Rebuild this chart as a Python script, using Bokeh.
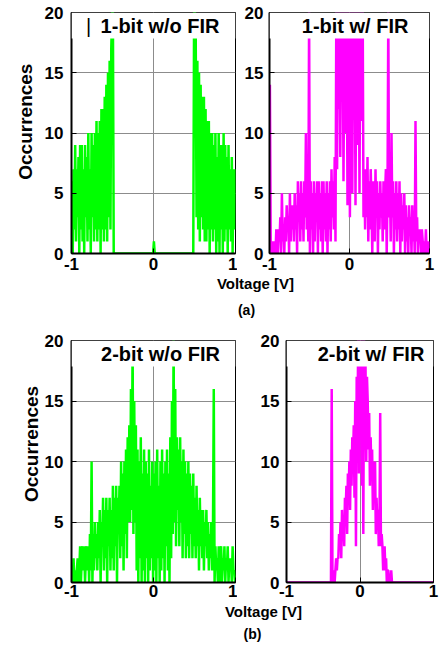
import numpy as np
from bokeh.plotting import figure
from bokeh.layouts import column, row
from bokeh.models import Range1d, FixedTicker, BoxAnnotation, Label
from bokeh.embed import file_html
from bokeh.resources import INLINE

# ---------------- data ----------------
# histogram bins: 200 bins of 0.01 V between -1 and 1 (bin centres)
BIN_CENTERS = np.round(np.linspace(-0.995, 0.995, 200), 3)

X_TICKS = [-1, 0, 1]
X_TICK_LABELS = ["-1", "0", "1"]
Y_TICKS = [0, 5, 10, 15, 20]
Y_TICK_LABELS = ["0", "5", "10", "15", "20"]

TITLES = ["1-bit w/o FIR", "1-bit w/ FIR", "2-bit w/o FIR", "2-bit w/ FIR"]
Y_LABEL = "Occurrences"
X_LABEL = "Voltage [V]"
SUB_LABELS = ["(a)", "(b)"]

COUNTS_1BIT_NOFIR = [
    6, 0, 7, 2, 9, 1, 7, 3, 8, 0,
    9, 2, 9, 1, 7, 0, 9, 3, 8, 1,
    10, 2, 7, 0, 10, 3, 9, 1, 10, 2,
    11, 1, 10, 2, 11, 0, 12, 2, 12, 1,
    13, 2, 14, 1, 15, 3, 16, 2, 17, 20,
    20, 0, 0, 0, 0, 0, 0, 0, 0, 0,
    0, 0, 0, 0, 0, 0, 0, 0, 0, 0,
    0, 0, 0, 0, 0, 0, 0, 0, 0, 0,
    0, 0, 0, 0, 0, 0, 0, 0, 0, 0,
    0, 0, 0, 0, 0, 0, 0, 0, 0, 0,
    1, 0, 0, 0, 0, 0, 0, 0, 0, 0,
    0, 0, 0, 0, 0, 0, 0, 0, 0, 0,
    0, 0, 0, 0, 0, 0, 0, 0, 0, 0,
    0, 0, 0, 0, 0, 0, 0, 0, 0, 0,
    0, 0, 0, 0, 0, 0, 0, 0, 0, 20,
    20, 18, 3, 16, 2, 15, 1, 14, 3, 13,
    2, 13, 1, 12, 1, 11, 2, 11, 0, 10,
    2, 10, 1, 9, 2, 10, 0, 8, 1, 10,
    0, 9, 2, 9, 0, 10, 1, 9, 2, 8,
    0, 9, 2, 7, 1, 8, 0, 7, 2, 7,
]

COUNTS_1BIT_FIR = [
    14, 1, 0, 1, 0, 1, 0, 0, 2, 1,
    0, 2, 1, 3, 0, 5, 1, 2, 0, 3,
    1, 4, 2, 3, 0, 5, 1, 4, 2, 4,
    1, 5, 2, 4, 0, 6, 3, 5, 1, 6,
    2, 5, 1, 6, 3, 10, 2, 5, 1, 20,
    0, 6, 2, 5, 0, 6, 1, 5, 3, 6,
    0, 6, 2, 5, 1, 6, 0, 6, 2, 5,
    1, 6, 0, 5, 2, 6, 1, 7, 3, 6,
    2, 8, 1, 20, 7, 20, 12, 20, 8, 20,
    13, 20, 6, 18, 20, 10, 20, 4, 17, 20,
    3, 16, 20, 5, 20, 14, 20, 4, 18, 20,
    9, 20, 5, 20, 11, 18, 20, 3, 7, 2,
    7, 3, 8, 1, 6, 2, 7, 4, 0, 6,
    5, 1, 7, 3, 6, 0, 5, 2, 6, 3,
    5, 1, 6, 2, 5, 7, 0, 5, 20, 3,
    6, 1, 10, 3, 6, 0, 5, 2, 6, 1,
    5, 2, 6, 0, 5, 1, 4, 2, 5, 0,
    4, 1, 3, 0, 4, 2, 3, 0, 4, 1,
    3, 0, 11, 1, 3, 0, 2, 1, 2, 0,
    2, 1, 0, 1, 0, 2, 0, 1, 0, 1,
]

COUNTS_2BIT_NOFIR = [
    1, 0, 2, 0, 1, 0, 1, 2, 0, 1,
    3, 0, 2, 3, 1, 3, 0, 2, 3, 1,
    3, 0, 4, 1, 10, 0, 4, 1, 5, 2,
    4, 1, 5, 2, 6, 0, 5, 3, 7, 1,
    6, 2, 7, 0, 6, 3, 7, 1, 6, 2,
    8, 1, 7, 3, 8, 0, 7, 4, 8, 2,
    10, 3, 9, 1, 10, 4, 11, 2, 12, 5,
    13, 5, 16, 6, 20, 4, 15, 5, 13, 1,
    11, 0, 10, 2, 12, 0, 9, 1, 11, 0,
    10, 2, 9, 0, 11, 1, 8, 2, 10, 0,
    9, 1, 10, 0, 11, 2, 8, 0, 10, 1,
    11, 2, 9, 0, 10, 3, 11, 1, 9, 0,
    12, 2, 15, 4, 20, 5, 16, 3, 12, 6,
    11, 3, 12, 5, 10, 2, 11, 4, 10, 2,
    9, 3, 10, 2, 9, 4, 8, 2, 9, 3,
    7, 2, 8, 3, 6, 1, 7, 3, 6, 2,
    6, 1, 5, 3, 6, 2, 5, 1, 4, 2,
    5, 1, 4, 16, 0, 3, 1, 2, 0, 3,
    0, 2, 3, 0, 2, 1, 3, 0, 2, 1,
    3, 0, 2, 1, 2, 0, 3, 1, 1, 0,
]

COUNTS_2BIT_FIR = [
    0, 0, 0, 0, 0, 0, 0, 0, 0, 0,
    0, 0, 0, 0, 0, 0, 0, 0, 0, 0,
    0, 0, 0, 0, 0, 0, 0, 0, 0, 0,
    0, 0, 0, 0, 0, 0, 0, 0, 0, 0,
    0, 0, 0, 0, 0, 0, 0, 0, 0, 0,
    0, 0, 0, 0, 0, 0, 0, 0, 0, 0,
    0, 16, 1, 0, 1, 0, 1, 2, 1, 2,
    2, 4, 3, 5, 2, 6, 4, 5, 3, 7,
    6, 8, 4, 9, 7, 10, 6, 11, 8, 12,
    10, 13, 7, 15, 3, 17, 12, 20, 9, 20,
    16, 20, 8, 20, 4, 20, 14, 18, 10, 17,
    15, 11, 14, 8, 12, 9, 11, 6, 10, 8,
    10, 4, 7, 5, 6, 3, 5, 14, 3, 4,
    3, 1, 2, 3, 1, 2, 0, 1, 1, 0,
    0, 0, 1, 0, 0, 0, 0, 0, 0, 0,
    0, 0, 0, 0, 0, 0, 0, 0, 0, 0,
    0, 0, 0, 0, 0, 0, 0, 0, 0, 0,
    0, 0, 0, 0, 0, 0, 0, 0, 0, 0,
    0, 0, 0, 0, 0, 0, 0, 0, 0, 0,
    0, 0, 0, 0, 0, 0, 0, 0, 0, 0,
]

GREEN = "#00ff00"
MAGENTA = "#ff00ff"
FONT = "Liberation Sans"


def panel(counts, color, title, title_x, w, h, lb, rb, tb, bb,
          ystand, xstand, bar_mark=None):
    p = figure(width=w, height=h, x_range=Range1d(-1, 1), y_range=Range1d(0, 20),
               output_backend="svg", toolbar_location=None,
               min_border_left=lb, min_border_right=rb,
               min_border_top=tb, min_border_bottom=bb)
    p.background_fill_color = "white"
    p.border_fill_color = "white"
    p.outline_line_color = "black"
    p.outline_line_width = 1

    p.line(BIN_CENTERS, counts, line_color=color, line_width=2.5,
           line_join="bevel")

    for ax in (p.xaxis[0], p.yaxis[0]):
        ax.axis_line_color = "black"
        ax.axis_line_width = 2
        ax.major_tick_in = 5
        ax.major_tick_out = 0
        ax.major_tick_line_color = "black"
        ax.minor_tick_line_color = None
        ax.major_label_text_font = FONT
        ax.major_label_text_font_style = "bold"
        ax.major_label_text_font_size = "17px"
        ax.major_label_text_color = "black"
    p.xaxis.ticker = FixedTicker(ticks=X_TICKS)
    p.xaxis.major_label_overrides = dict(zip(X_TICKS, X_TICK_LABELS))
    p.yaxis.ticker = FixedTicker(ticks=Y_TICKS)
    p.yaxis.major_label_overrides = dict(zip(Y_TICKS, Y_TICK_LABELS))
    p.yaxis.major_label_standoff = ystand
    p.xaxis.major_label_standoff = xstand

    p.xgrid.grid_line_color = "#8c8c8c"
    p.ygrid.grid_line_color = "#8c8c8c"
    p.xgrid.grid_line_width = 1
    p.ygrid.grid_line_width = 1

    # legend box on top of the traces
    p.add_layout(BoxAnnotation(bottom=17.85, fill_color="white", fill_alpha=1.0,
                               line_color=None))
    p.add_layout(Label(x=title_x, y=18.9, text=title, text_font=FONT,
                       text_font_style="bold", text_font_size="20px",
                       text_align="center", text_baseline="middle",
                       text_color="black"))
    if bar_mark is not None:
        p.add_layout(Label(x=bar_mark, y=18.85, text="|", text_font=FONT,
                           text_font_size="20px", text_align="center",
                           text_baseline="middle", text_color="black"))
    return p


def strip(w, h, items, flip=True):
    yr = Range1d(h, 0) if flip else Range1d(0, h)
    s = figure(width=w, height=h, x_range=Range1d(0, w), y_range=yr,
               output_backend="svg", toolbar_location=None,
               x_axis_type=None, y_axis_type=None,
               min_border_left=0, min_border_right=0,
               min_border_top=0, min_border_bottom=0)
    s.outline_line_color = None
    s.background_fill_color = "white"
    s.border_fill_color = "white"
    s.xgrid.visible = False
    s.ygrid.visible = False
    for (tx, ty, txt, size, ang) in items:
        s.add_layout(Label(x=tx, y=ty, text=txt, text_font=FONT,
                           text_font_style="bold", text_font_size=size,
                           angle=ang, text_align="center", text_baseline="middle",
                           text_color="black"))
    return s


ROT = np.pi / 2

l1 = strip(40, 276, [(24.5, 151, Y_LABEL, "19px", ROT)], flip=False)
f1 = panel(COUNTS_1BIT_NOFIR, GREEN, TITLES[0], 0.08, 197, 276, 31, 2, 12, 23,
           8, 4, bar_mark=-0.79)
f2 = panel(COUNTS_1BIT_FIR, MAGENTA, TITLES[1], 0.07, 200, 276, 32, 8, 12, 23,
           6, 4)

sa = strip(440, 44, [(255, 7, X_LABEL, "15px", 0),
                     (246, 33, SUB_LABELS[0], "14px", 0)])

l2 = strip(40, 283, [(30.5, 162, Y_LABEL, "19px", ROT)], flip=False)
f3 = panel(COUNTS_2BIT_NOFIR, GREEN, TITLES[2], 0.085, 197, 283, 31, 2, 19, 21,
           8, 2)
f4 = panel(COUNTS_2BIT_FIR, MAGENTA, TITLES[3], 0.15, 203, 283, 49, 7, 20, 21,
           7, 2)

sb = strip(440, 41, [(263, 8, X_LABEL, "15px", 0),
                     (252, 30, SUB_LABELS[1], "14px", 0)])

layout = column(row(l1, f1, f2, spacing=0), sa,
                row(l2, f3, f4, spacing=0), sb, spacing=0)

open("out.html", "w").write(file_html(layout, INLINE))
